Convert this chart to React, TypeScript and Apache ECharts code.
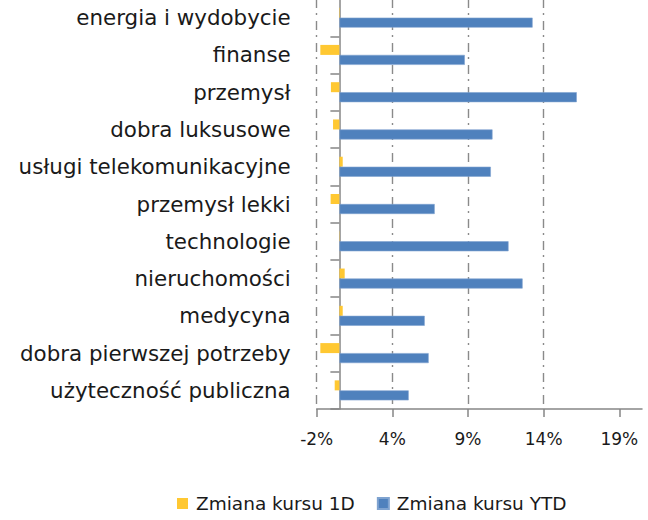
import React, { useEffect, useRef } from "react";
import * as echarts from "echarts";

const categories = [
  "energia i wydobycie",
  "finanse",
  "przemysł",
  "dobra luksusowe",
  "usługi telekomunikacyjne",
  "przemysł lekki",
  "technologie",
  "nieruchomości",
  "medycyna",
  "dobra pierwszej potrzeby",
  "użyteczność publiczna",
];

const change1D = [0.03, -1.26, -0.56, -0.42, 0.22, -0.58, -0.02, 0.35, 0.22, -1.26, -0.31];
const changeYTD = [12.77, 8.29, 15.69, 10.12, 10.01, 6.3, 11.18, 12.11, 5.64, 5.9, 4.58];

const seriesNames = ["Zmiana kursu 1D", "Zmiana kursu YTD"];
const xTickValues = [-1.5, 3.5, 8.5, 13.5, 18.5];
const xTickLabels = ["-2%", "4%", "9%", "14%", "19%"];

const FONT = "DejaVu Sans";

export default function App() {
  const ref = useRef<HTMLDivElement>(null);

  useEffect(() => {
    if (!ref.current) return;
    const chart = echarts.init(ref.current, undefined, { renderer: "svg" });
    chart.setOption({
      animation: false,
      backgroundColor: "#ffffff",
      grid: {
        left: 316.7,
        right: 6,
        top: -1,
        bottom: 111,
        containLabel: false,
        outerBoundsMode: "none",
      },
      legend: {
        data: seriesNames,
        left: 172,
        top: 489,
        icon: "rect",
        itemWidth: 11,
        itemHeight: 11,
        itemGap: 22,
        textStyle: { fontFamily: FONT, fontSize: 18.5, color: "#1a1a1a", padding: [0, 0, 0, 3] },
      },
      xAxis: {
        type: "value",
        min: -1.5,
        max: 20,
        interval: 5,
        axisLine: { show: true, lineStyle: { color: "#868686", width: 1.5 } },
        axisTick: { show: true, length: 8, customValues: xTickValues, lineStyle: { color: "#868686", width: 1.5 } },
        axisLabel: {
          customValues: xTickValues,
          formatter: (v: number) => {
            const i = xTickValues.indexOf(v);
            return i >= 0 ? xTickLabels[i] : "";
          },
          margin: 21,
          fontFamily: FONT,
          fontSize: 17,
          color: "#1a1a1a",
        },
        splitLine: {
          show: true,
          showMinLine: true,
          showMaxLine: false,
          lineStyle: { color: "#8a8a8a", width: 1.4, type: [9, 5, 2, 6] },
        },
      },
      yAxis: {
        type: "category",
        data: categories,
        inverse: true,
        axisLine: { show: true, onZero: true, lineStyle: { color: "#868686", width: 1.5 } },
        axisTick: { show: true, length: 9, lineStyle: { color: "#868686", width: 1.5 } },
        axisLabel: {
          margin: 26,
          fontFamily: FONT,
          fontSize: 21.4,
          color: "#1a1a1a",
          padding: [4, 0, 0, 0],
        },
        splitLine: { show: false },
      },
      series: [
        {
          name: seriesNames[0],
          type: "bar",
          data: change1D,
          barWidth: 10,
          barGap: "0%",
          itemStyle: { color: "#FFC832" },
        },
        {
          name: seriesNames[1],
          type: "bar",
          data: changeYTD,
          barWidth: 10,
          barGap: "0%",
          itemStyle: { color: "#4F81BD", borderColor: "#7fa3d0", borderWidth: 0.6 },
        },
      ],
    });
    return () => chart.dispose();
  }, []);

  return (
    <div
      ref={ref}
      style={{ position: "fixed", left: 0, top: 0, width: 648, height: 520, background: "#fff" }}
    />
  );
}
